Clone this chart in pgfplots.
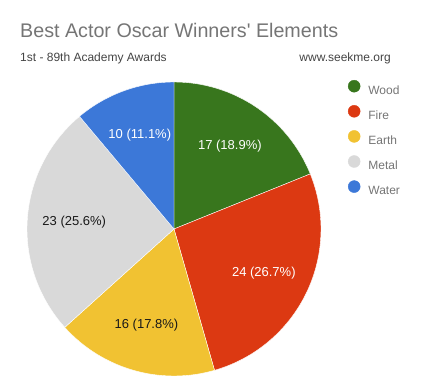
\documentclass[border=0pt]{standalone}
\usepackage{pgfplots}
\pgfplotsset{compat=1.18}
\usepackage{pgfplotstable}
\usepackage{fontspec}
\setmainfont{Liberation Sans}[Ligatures=TeXOff]

\definecolor{slice0}{HTML}{38761D}
\definecolor{slice1}{HTML}{DC3912}
\definecolor{slice2}{HTML}{F1C232}
\definecolor{slice3}{HTML}{D9D9D9}
\definecolor{slice4}{HTML}{3C78D8}
\colorlet{lab0}{white}
\colorlet{lab1}{white}
\colorlet{lab2}{black!90}
\colorlet{lab3}{black!90}
\colorlet{lab4}{white}
\definecolor{titlegray}{HTML}{757575}
\definecolor{subgray}{HTML}{444444}

\pgfplotstableread{
value name
17 Wood
24 Fire
16 Earth
23 Metal
10 Water
}\piedata

\begin{document}
\begin{tikzpicture}
\path[use as bounding box] (0pt,0pt) rectangle (421pt,388pt);

% totals and angles
\xdef\total{0}
\foreach \i in {0,...,4}{%
  \pgfplotstablegetelem{\i}{value}\of\piedata
  \pgfmathsetmacro\t{\total+\pgfplotsretval}%
  \xdef\total{\t}%
}
\xdef\cum{0}
\foreach \i in {0,...,4}{%
  \pgfplotstablegetelem{\i}{value}\of\piedata
  \edef\v{\pgfplotsretval}%
  \pgfmathsetmacro\sa{90-\cum/\total*360}%
  \pgfmathsetmacro\ea{90-(\cum+\v)/\total*360}%
  \pgfmathsetmacro\ma{(\sa+\ea)/2}%
  \pgfmathsetmacro\pc{\v/\total*100}%
  \pgfmathsetmacro\nc{\cum+\v}%
  \expandafter\xdef\csname sa\i\endcsname{\sa}%
  \expandafter\xdef\csname ea\i\endcsname{\ea}%
  \expandafter\xdef\csname ma\i\endcsname{\ma}%
  \expandafter\xdef\csname pc\i\endcsname{\pc}%
  \expandafter\xdef\csname vv\i\endcsname{\v}%
  \xdef\cum{\nc}%
}

\node[anchor=base west, text=titlegray, font=\fontsize{19.7}{24}\selectfont, inner sep=0pt] at (20pt,350.5pt) {Best Actor Oscar Winners' Elements};
\node[anchor=base west, text=subgray, font=\fontsize{12}{14}\selectfont, inner sep=0pt] at (20pt,326pt) {1st - 89th Academy Awards};
\node[anchor=base east, text=subgray, font=\fontsize{12}{14}\selectfont, inner sep=0pt] at (391pt,326pt) {www.seekme.org};

\begin{axis}[
  at={(27pt,12pt)}, anchor=south west,
  scale only axis, width=294pt, height=294pt,
  xmin=-1, xmax=1, ymin=-1, ymax=1,
  hide axis, clip=false,
  legend style={at={(1.0918,1.0068)}, anchor=north west, draw=none, fill=none,
    inner sep=0pt, outer sep=0pt, row sep=9.5pt,
    font=\fontsize{12}{14}\selectfont, text=titlegray,
    nodes={inner sep=0pt}},
  legend cell align=left,
  /tikz/every odd column/.append style={column sep=8pt},
]
\pgfplotsinvokeforeach{0,...,4}{%
  \fill[slice#1, draw=white, line width=0.4pt]
    (axis cs:0,0) -- (axis cs:{cos(\csname sa#1\endcsname)},{sin(\csname sa#1\endcsname)})
    arc[start angle=\csname sa#1\endcsname, end angle=\csname ea#1\endcsname, radius=147pt] -- cycle;
}
\pgfplotsinvokeforeach{0,...,4}{%
  \node[text=lab#1, font=\fontsize{13}{15}\selectfont]
    at (axis cs:{0.68*cos(\csname ma#1\endcsname)},{0.68*sin(\csname ma#1\endcsname)})
    {\csname vv#1\endcsname\ (\pgfmathprintnumber[fixed,fixed zerofill,precision=1,assume math mode=true]{\csname pc#1\endcsname}\%)};
}
\addlegendimage{legend image code/.code={\fill[slice0] (0pt,4.3pt) circle (6pt);}}
\addlegendentry{Wood}
\addlegendimage{legend image code/.code={\fill[slice1] (0pt,4.3pt) circle (6pt);}}
\addlegendentry{Fire}
\addlegendimage{legend image code/.code={\fill[slice2] (0pt,4.3pt) circle (6pt);}}
\addlegendentry{Earth}
\addlegendimage{legend image code/.code={\fill[slice3] (0pt,4.3pt) circle (6pt);}}
\addlegendentry{Metal}
\addlegendimage{legend image code/.code={\fill[slice4] (0pt,4.3pt) circle (6pt);}}
\addlegendentry{Water}
\end{axis}
\end{tikzpicture}
\end{document}
